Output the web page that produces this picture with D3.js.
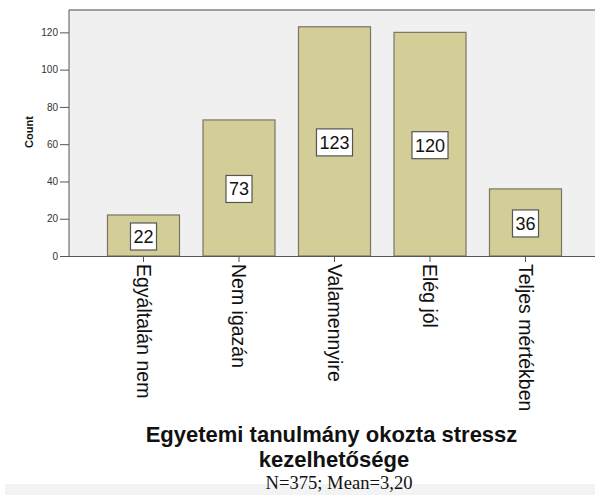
<!DOCTYPE html>
<html>
<head>
<meta charset="utf-8">
<script src="https://cdn.jsdelivr.net/npm/d3@7"></script>
<style>
  body { margin: 0; background: #fff; }
  svg { display: block; }
</style>
</head>
<body>
<svg id="chart" width="595" height="495"></svg>
<script>
const categories = ["Egyáltalán nem", "Nem igazán", "Valamennyire", "Elég jól", "Teljes mértékben"];
const counts = [22, 73, 123, 120, 36];
const yTicks = [0, 20, 40, 60, 80, 100, 120];
const titleLines = ["Egyetemi tanulmány okozta stressz", "kezelhetősége"];
const subtitle = "N=375; Mean=3,20";
const yLabel = "Count";

const svg = d3.select("#chart");
const plot = { left: 69, top: 10, right: 600, bottom: 256 };

// bottom strip
svg.append("rect").attr("x", 5).attr("y", 484).attr("width", 590).attr("height", 11).attr("fill", "#f3f3f3");

// plot background
svg.append("rect")
  .attr("x", plot.left).attr("y", plot.top)
  .attr("width", plot.right - plot.left).attr("height", plot.bottom - plot.top)
  .attr("fill", "#f0f0f0");
svg.append("line")
  .attr("x1", plot.left).attr("x2", plot.right)
  .attr("y1", plot.top).attr("y2", plot.top)
  .attr("stroke", "#a0a0a0").attr("stroke-width", 2);

const x = d3.scaleBand().domain(categories).range([95.75, 573.25]).paddingInner(0.246).paddingOuter(0.123);
const y = d3.scaleLinear().domain([0, 132]).range([plot.bottom, plot.top]);

// bars
svg.selectAll("rect.bar").data(categories).join("rect")
  .attr("class", "bar")
  .attr("x", d => x(d))
  .attr("y", (d, i) => y(counts[i]))
  .attr("width", x.bandwidth())
  .attr("height", (d, i) => y(0) - y(counts[i]))
  .attr("fill", "#d3ce97")
  .attr("stroke", "#7a7563")
  .attr("stroke-width", 1.2);

// value labels
const lab = svg.selectAll("g.vlab").data(categories).join("g")
  .attr("class", "vlab")
  .attr("transform", (d, i) => `translate(${x(d) + x.bandwidth() / 2},${(y(counts[i]) + y(0)) / 2 + 1})`);
lab.each(function(d, i) {
  const g = d3.select(this);
  const t = g.append("text").text(counts[i])
    .attr("text-anchor", "middle").attr("dy", "0.36em")
    .attr("font-family", "Liberation Sans, Arial, sans-serif").attr("font-size", 18).attr("fill", "#111");
  const w = t.node().getComputedTextLength();
  g.insert("rect", "text")
    .attr("x", -w / 2 - 3).attr("y", -13.5).attr("width", w + 6).attr("height", 27)
    .attr("fill", "#fff").attr("stroke", "#555").attr("stroke-width", 1.2);
});

// y axis
const yAxis = svg.append("g").attr("transform", `translate(${plot.left},0)`)
  .call(d3.axisLeft(y).tickValues(yTicks).tickSize(9).tickPadding(2));
yAxis.select(".domain").attr("stroke", "#555").attr("d", `M0,${plot.top}V${plot.bottom}`);
yAxis.selectAll(".tick line").attr("stroke", "#555");
yAxis.selectAll(".tick text").attr("font-family", "Liberation Sans, Arial, sans-serif").attr("font-size", 10).attr("fill", "#333");

// x axis
const xAxis = svg.append("g").attr("transform", `translate(0,${plot.bottom})`)
  .call(d3.axisBottom(x).tickSize(6).tickPadding(0));
xAxis.select(".domain").attr("stroke", "#555").attr("d", `M${plot.left},0.5H${plot.right}`);
xAxis.selectAll(".tick line").attr("stroke", "#555");
xAxis.selectAll(".tick text")
  .attr("font-family", "Liberation Sans, Arial, sans-serif").attr("font-size", 19.5).attr("fill", "#111")
  .attr("text-anchor", "start")
  .attr("transform", "rotate(90)")
  .attr("x", 8).attr("y", 0).attr("dy", "0.35em");

// y label
svg.append("text").text(yLabel)
  .attr("transform", "translate(33,132) rotate(-90)")
  .attr("text-anchor", "middle")
  .attr("font-family", "Liberation Sans, Arial, sans-serif").attr("font-size", 11).attr("font-weight", "bold").attr("fill", "#111");

// title
svg.append("text").text(titleLines[0])
  .attr("x", 331.5).attr("y", 441.5).attr("text-anchor", "middle")
  .attr("font-family", "Liberation Sans, Arial, sans-serif").attr("font-size", 22).attr("font-weight", "bold").attr("fill", "#111");
svg.append("text").text(titleLines[1])
  .attr("x", 334).attr("y", 466.5).attr("text-anchor", "middle")
  .attr("font-family", "Liberation Sans, Arial, sans-serif").attr("font-size", 22).attr("font-weight", "bold").attr("fill", "#111");
svg.append("text").text(subtitle)
  .attr("x", 339).attr("y", 489).attr("text-anchor", "middle")
  .attr("font-family", "Liberation Serif, Times New Roman, serif").attr("font-size", 18.6).attr("fill", "#111");
</script>
</body>
</html>
